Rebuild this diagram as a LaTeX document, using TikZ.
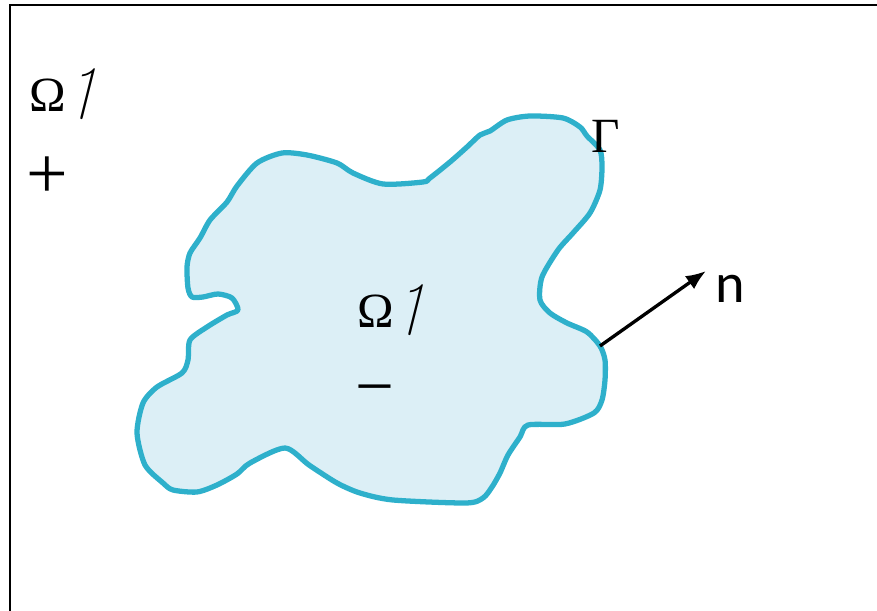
\documentclass[tikz,border=0pt]{standalone}
\usepackage{amsmath,amssymb}
\usepackage{fontspec}
\setmainfont{Liberation Serif}
\newfontfamily\nfont{Carlito}
\usetikzlibrary{arrows.meta}
\definecolor{regionBg}{HTML}{DCEFF6}
\definecolor{regionLine}{HTML}{2EB0CB}
\newcommand{\harp}{\kern0.08em\raisebox{0.14em}{\rotatebox{-14}{\scalebox{1.2}{$\boldsymbol{\upharpoonleft}$}}}}
\tikzset{
  arr/.style={-{Latex[length=4mm,width=3.2mm]}, line width=1.9pt, black},
  region/.style={draw=regionLine, fill=regionBg, line width=3pt, line join=round},
  lbl/.style={font=\fontsize{28}{32}\selectfont, inner sep=0pt, text=black},
  frame/.style={line width=1.2pt, black}
}

\begin{document}
\begin{tikzpicture}[x=0.02cm,y=-0.02cm]
  \useasboundingbox (0,0) rectangle (877,611);
  \draw[frame] (10,611) -- (10,5) -- (877,5);
  \draw[region] plot[smooth cycle, tension=0.45] coordinates {
    (282,153) (307,155) (337,163) (353,173) (383,184) (423,182) (430,178)
    (450,162) (467,147) (480,135) (490,131) (507,120) (530,116) (563,118)
    (580,127) (587,136) (600,150) (602,167) (600,190) (590,213) (573,233)
    (558,250) (542,277) (540,300) (550,313) (567,323) (587,332) (600,346)
    (605,360) (605,380) (602,400) (594,413) (565,424) (528,425) (520,437)
    (508,455) (500,473) (492,487) (483,498) (466,503) (393,500) (360,493)
    (337,483) (309,465) (285,448) (250,463) (237,474) (217,485) (197,492)
    (173,490) (163,483) (145,465) (137,433) (143,403) (157,387) (182,373)
    (188,360) (190,340) (207,327) (227,315) (238,310) (232,298) (218,294)
    (203,297) (192,297) (188,288) (187,267) (190,253) (200,238) (210,220)
    (227,202) (237,186) (257,163)};
  \node[lbl,anchor=base west] (omegaout) at (29,112) {Ω\harp};
  \node[lbl] (plus) at (47,178) {\scalebox{1.5}{+}};
  \node[lbl,anchor=base west] (omegain) at (357,328) {Ω\harp};
  \node[lbl] (minus) at (375,397) {\scalebox{1.4}{−}};
  \node[lbl,anchor=base west] (gamma) at (591,153) {Γ};
  \coordinate (nbase) at (600,346);
  \coordinate (ntip) at (706,271);
  \node[lbl,font=\fontsize{32}{36}\selectfont\nfont] (nlabel) at (730,289) {n};
  \draw[arr] (nbase) -- (ntip);
\end{tikzpicture}
\end{document}
